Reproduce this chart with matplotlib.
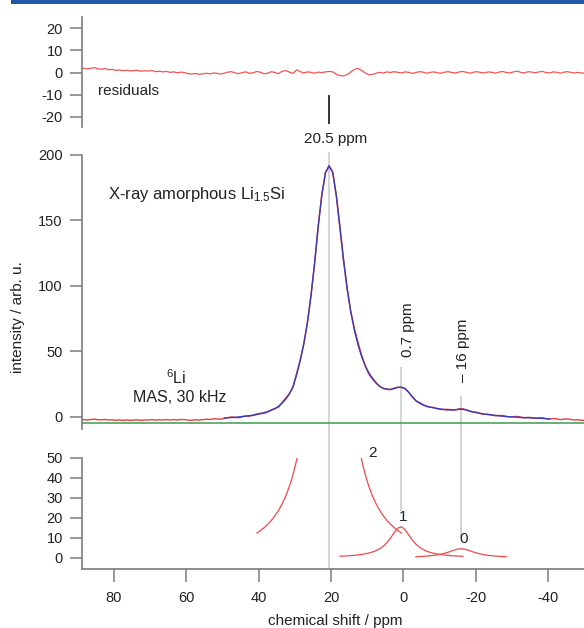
import numpy as np
import matplotlib
matplotlib.use("Agg")
import matplotlib.pyplot as plt
from matplotlib.transforms import blended_transform_factory
from matplotlib.patches import Rectangle

plt.rcParams['font.family'] = ['Liberation Sans', 'DejaVu Sans']
plt.rcParams['mathtext.fontset'] = 'custom'
plt.rcParams['mathtext.rm'] = 'Liberation Sans'
plt.rcParams['mathtext.it'] = 'Liberation Sans:italic'
plt.rcParams['mathtext.bf'] = 'Liberation Sans:bold'
plt.rcParams['axes.unicode_minus'] = False

# ---------------------------------------------------------------- data
# 6Li MAS NMR of X-ray amorphous Li1.5Si, sampled every 1 ppm
shift = np.arange(89.5, -51.0, -1.0)          # ppm, 141 points

# total fitted line shape (incl. baseline), arb. u.
fit_total = np.array([
    -4.10, -4.05, -4.00, -3.95, -3.90, -3.85, -3.80, -3.75, -3.70, -3.65,
    -3.60, -3.55, -3.50, -3.45, -3.40, -3.35, -3.30, -3.25, -3.20, -3.10,
    -3.00, -2.90, -2.80, -2.70, -2.60, -2.50, -2.40, -2.30, -2.20, -2.10,
    -2.00, -1.90, -1.80, -1.70, -1.60, -1.50, -1.40, -1.30, -1.20, -1.10,
    -0.90, -0.70, -0.50, -0.30, -0.10, 0.20, 0.50, 0.90, 1.30, 1.80,
    2.50, 3.20, 4.00, 5.00, 6.30, 8.00, 10.5, 13.5, 17.5, 23.0,
    32.0, 43.0, 56.0, 72.0, 93.0, 118.0, 146.0, 170.0, 186.5, 191.5,
    186.5, 169.0, 145.0, 120.0, 98.0, 80.0, 66.0, 55.0, 46.0, 39.0,
    33.5, 29.5, 26.0, 23.2, 21.8, 21.0, 20.9, 21.6, 22.5, 22.7,
    21.5, 18.8, 15.5, 12.3, 10.5, 9.1, 8.1, 7.4, 6.8, 6.3,
    5.9, 5.5, 5.3, 5.3, 5.5, 5.8, 5.7, 5.2, 4.4, 3.6,
    3.0, 2.5, 2.1, 1.7, 1.4, 1.1, 0.8, 0.5, 0.3, 0.1,
    -0.1, -0.3, -0.4, -0.6, -0.7, -0.8, -1.0, -1.1, -1.2, -1.4,
    -1.5, -1.6, -1.7, -1.8, -1.9, -2.0, -2.1, -2.2, -2.3, -2.4, -2.5,
])

# fit residuals (experiment - fit)
residuals = np.array([
    1.8, 2.0, 1.6, 1.9, 2.2, 1.7, 1.5, 1.8, 1.3, 1.4,
    1.0, 1.2, 0.8, 1.1, 0.7, 0.9, 1.0, 0.6, 0.8, 0.7,
    0.9, 0.4, 0.6, 0.3, 0.5, 0.1, 0.3, -0.1, 0.2, 0.0,
    -0.5, -0.7, -0.4, -0.8, -0.6, -0.3, -0.6, -0.2, -0.4, -0.7,
    -0.3, 0.2, 0.4, -0.2, -0.5, 0.0, 0.3, -0.4, -0.1, 0.5,
    0.1, -0.6, -0.3, 0.4, 0.0, -0.5, 0.6, 0.9, 0.2, -0.4,
    1.2, 0.4, -0.2, 0.3, 0.1, -0.3, 0.2, 0.0, 0.3, 0.5,
    0.3, -0.8, -1.4, -1.5, -0.9, 0.3, 1.4, 1.9, 0.9, -0.2,
    -1.0, -0.8, -0.3, 0.1, -0.2, 0.3, 0.0, 0.4, 0.1, -0.2,
    0.3, 0.1, -0.4, 0.0, 0.4, 0.2, -0.3, 0.1, 0.3, -0.1,
    -0.3, 0.2, 0.4, 0.0, -0.2, 0.3, 0.5, 0.1, -0.3, 0.2,
    0.4, 0.0, -0.2, 0.3, 0.1, -0.3, 0.2, 0.5, 0.0, -0.2,
    0.3, 0.6, 0.1, -0.2, 0.4, 0.2, -0.1, 0.3, 0.5, 0.0,
    -0.2, 0.3, 0.1, -0.3, 0.2, 0.4, 0.0, -0.2, 0.1, -0.3, -0.1,
])

# measured spectrum
spectrum = fit_total + residuals

# fitted range of the line shape (ppm)
fit_range = (49.5, -40.5)
baseline = -4.8

# individual fit components, each on its own shift window
comp2_range = (40.5, 0.5)
comp2 = np.array([
    12.3, 13.6, 15.0, 16.7, 18.6, 20.9, 23.6, 26.9, 30.8, 35.6,
    41.5, 48.75, 57.9, 69.3, 83.6, 101.2, 122.4, 146.3, 169.9, 188.0,
    195.0,
    188.0, 169.9, 146.3, 122.4, 101.2, 83.6, 69.3, 57.9, 48.75, 41.5,
    35.6, 30.8, 26.9, 23.6, 20.9, 18.6, 16.7, 15.0, 13.6, 12.3,
])
comp1_range = (17.5, -16.5)
comp1 = np.array([
    0.72, 0.81, 0.91, 1.04, 1.20, 1.39, 1.63, 1.94, 2.33, 2.85,
    3.55, 4.48, 5.78, 7.56, 9.86, 12.54, 14.81, 15.45, 14.03, 11.45,
    8.87, 6.77, 5.21, 4.07, 3.24, 2.62, 2.16, 1.80, 1.53, 1.31,
    1.13, 0.99, 0.87, 0.77, 0.69,
])
comp0_range = (-3.5, -28.5)
comp0 = np.array([
    0.51, 0.59, 0.69, 0.82, 0.98, 1.18, 1.45, 1.79, 2.24, 2.79,
    3.43, 4.04, 4.44, 4.44, 4.04, 3.43, 2.79, 2.24, 1.79, 1.45,
    1.18, 0.98, 0.82, 0.69, 0.59, 0.51,
])
components = [("2", comp2_range, comp2), ("1", comp1_range, comp1), ("0", comp0_range, comp0)]

# resonance positions (ppm)
peak_shift = [20.5, 0.7, -16.0]

x_ticks = [80, 60, 40, 20, 0, -20, -40]
res_ticks = [-20, -10, 0, 10, 20]
spec_ticks = [0, 50, 100, 150, 200]
comp_ticks = [0, 10, 20, 30, 40, 50]


def window(rng):
    return (shift <= rng[0] + 1e-9) & (shift >= rng[1] - 1e-9)


# ---------------------------------------------------------------- figure
W, H = 584, 628
fig = plt.figure(figsize=(W / 100, H / 100), dpi=100)


def box(l, t, r, b):
    return [l / W, 1 - b / H, (r - l) / W, (b - t) / H]


ax_res = fig.add_axes(box(81.5, 17.3, 584, 126.7))
ax_spec = fig.add_axes(box(81.5, 155, 584, 429.3))
ax_comp = fig.add_axes(box(81.5, 457.7, 584, 569.3))

spine_col = '#7d7d7d'
label_col = '#222222'
for ax in (ax_res, ax_spec, ax_comp):
    ax.set_facecolor('none')
    ax.set_xlim(89, -50)
    ax.spines['top'].set_visible(False)
    ax.spines['right'].set_visible(False)
    ax.spines['left'].set_color(spine_col)
    ax.spines['left'].set_linewidth(1.2)
    ax.tick_params(axis='y', direction='out', length=9, width=1.1,
                   color=spine_col, labelsize=10.5, pad=4.5, labelcolor=label_col)
for ax in (ax_res, ax_spec):
    ax.spines['bottom'].set_visible(False)
    ax.set_xticks([])

ax_comp.spines['bottom'].set_color(spine_col)
ax_comp.spines['bottom'].set_linewidth(1.2)
ax_comp.tick_params(axis='x', direction='out', length=9.5, width=1.1,
                    color=spine_col, labelsize=10.5, pad=6, labelcolor=label_col)
ax_comp.set_xticks(x_ticks)
ax_comp.set_xticklabels([str(v) for v in x_ticks])

ax_res.set_ylim(-24.5, 25)
ax_res.set_yticks(res_ticks)
ax_spec.set_ylim(-9.5, 200)
ax_spec.set_yticks(spec_ticks)
ax_comp.set_ylim(-5.8, 50)
ax_comp.set_yticks(comp_ticks)

red = '#ee3b3b'
blue = '#3a3ab8'

# residuals
ax_res.plot(shift, residuals, color='#f25555', lw=0.9)
ax_res.plot([peak_shift[0], peak_shift[0]], [-10.5, -22.8], color='#333333', lw=1.4)

# spectrum + fit
ax_spec.axhline(baseline, color='#3c9c52', lw=1.1, zorder=1)
ax_spec.plot(shift, spectrum, color=red, lw=1.0, zorder=2)
m = window(fit_range)
ax_spec.plot(shift[m], fit_total[m], color=blue, lw=1.0, zorder=3)

# components
for name, rng, vals in components:
    ax_comp.plot(shift[window(rng)], vals, color='#f04a4a', lw=0.9, zorder=3)

# guide lines through the panels
trans = blended_transform_factory(ax_spec.transData, fig.transFigure)
guide_extent = [(153, 567), (368, 510), (396.7, 536.6)]
for pos, (ytop, ybot) in zip(peak_shift, guide_extent):
    ax_spec.plot([pos, pos], [1 - ytop / H, 1 - ybot / H], transform=trans,
                 color='#d5d5d5', lw=1.5, clip_on=False, zorder=0.5)

# annotations
fs = 11
fig.text(98 / W, 1 - 90.7 / H, 'residuals', ha='left', va='center', fontsize=fs, color=label_col)
fig.text(336 / W, 1 - 139 / H, f'{peak_shift[0]:g} ppm', ha='center', va='center',
         fontsize=fs, color=label_col)
fig.text(408 / W, 1 - 330 / H, f'{peak_shift[1]:g} ppm', ha='center', va='center',
         rotation=90, fontsize=fs, color=label_col)
fig.text(462.7 / W, 1 - 350 / H, f'\u2013 {abs(peak_shift[2]):g} ppm', ha='center', va='center',
         rotation=90, fontsize=fs, color=label_col)
fig.text(108 / W, 1 - 194 / H, r'X-ray amorphous Li$_{\mathrm{1.5}}$Si', ha='left', va='center',
         fontsize=12, color=label_col)
fig.text(176 / W, 1 - 378 / H, r'$^{\mathrm{6}}$Li', ha='center', va='center', fontsize=11.5, color=label_col)
fig.text(180 / W, 1 - 397 / H, 'MAS, 30 kHz', ha='center', va='center', fontsize=11.5, color=label_col)

comp_label_pos = [(372.3, 453.3), (403.3, 516.7), (463.3, 539.3)]
for (name, _, _), (px, py) in zip(components, comp_label_pos):
    fig.text(px / W, 1 - py / H, name, ha='center', va='center', fontsize=fs, color=label_col)

fig.text(335 / W, 1 - 621.5 / H, 'chemical shift / ppm', ha='center', va='center',
         fontsize=fs, color=label_col)
fig.text(18 / W, 1 - 317 / H, 'intensity / arb. u.', ha='center', va='center',
         rotation=90, fontsize=fs, color=label_col)

# header rule
fig.add_artist(Rectangle((11 / W, 1 - 3.5 / H), 1 - 11 / W, 3.5 / H,
                         transform=fig.transFigure, color='#1f5aa6', lw=0))

fig.savefig('out.png', dpi=100)
